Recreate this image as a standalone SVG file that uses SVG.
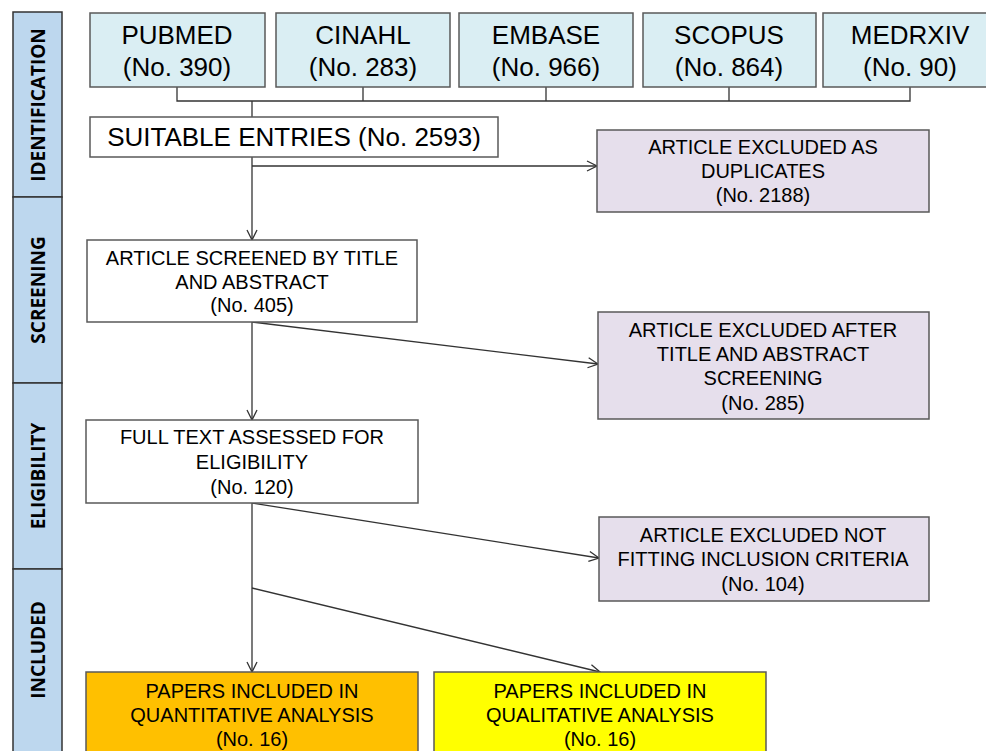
<svg xmlns="http://www.w3.org/2000/svg" width="986" height="751" viewBox="0 0 986 751">
<style>
text{font-family:"Liberation Sans",Arial,sans-serif;fill:#000;text-anchor:middle}
.band{fill:#bdd7ee;stroke:#333;stroke-width:1.5}
.bl{font-family:"Open Sans","DejaVu Sans",sans-serif;font-weight:bold;font-size:19px}
.src{fill:#daeef3;stroke:#595959;stroke-width:1.5}
.wht{fill:#fff;stroke:#595959;stroke-width:1.5}
.pur{fill:#e6dfec;stroke:#595959;stroke-width:1.5}
.org{fill:#ffc000;stroke:#595959;stroke-width:1.5}
.yel{fill:#ffff00;stroke:#595959;stroke-width:1.5}
.t24{font-size:26px}
.t18{font-size:20px}
.t16{font-size:20px}
.c{fill:none;stroke:#333;stroke-width:1.3}
.a{fill:none;stroke:#333;stroke-width:1.3;marker-end:url(#ar)}
</style>
<defs>
<marker id="ar" viewBox="0 0 12 12" refX="11" refY="6" markerWidth="12" markerHeight="12" markerUnits="userSpaceOnUse" orient="auto">
<path d="M1,1 L11,6 L1,11" fill="none" stroke="#333" stroke-width="1.3"/>
</marker>
</defs>
<rect width="986" height="751" fill="#fff"/>
<g id="bands">
<rect class="band" x="13" y="12" width="49" height="185"/>
<rect class="band" x="13" y="197" width="49" height="186"/>
<rect class="band" x="13" y="383" width="49" height="186"/>
<rect class="band" x="13" y="569" width="49" height="190"/>
<text class="bl" transform="translate(45,105) rotate(-90)">IDENTIFICATION</text>
<text class="bl" transform="translate(45,290) rotate(-90)">SCREENING</text>
<text class="bl" transform="translate(45,476) rotate(-90)">ELIGIBILITY</text>
<text class="bl" transform="translate(45,650) rotate(-90)">INCLUDED</text>
</g>
<g id="connectors">
<path class="c" d="M177,87 V101 H910 V87 M363,87 V101 M546,87 V101 M729,87 V101 M252,101 V117"/>
<path class="a" d="M252,157 V240"/>
<path class="a" d="M252,166 H597"/>
<path class="a" d="M252,322 L598,364"/>
<path class="a" d="M252,322 V420"/>
<path class="a" d="M252,503 L599,558"/>
<path class="a" d="M252,503 V672"/>
<path class="a" d="M252,588 L600,672"/>
</g>
<g id="pubmed"><rect class="src" x="90" y="13" width="175" height="74"/><text class="t24" x="177" y="44">PUBMED</text><text class="t24" x="177" y="76">(No. 390)</text></g>
<g id="cinahl"><rect class="src" x="276" y="13" width="174" height="74"/><text class="t24" x="363" y="44">CINAHL</text><text class="t24" x="363" y="76">(No. 283)</text></g>
<g id="embase"><rect class="src" x="459" y="13" width="174" height="74"/><text class="t24" x="546" y="44">EMBASE</text><text class="t24" x="546" y="76">(No. 966)</text></g>
<g id="scopus"><rect class="src" x="643" y="13" width="173" height="74"/><text class="t24" x="729" y="44">SCOPUS</text><text class="t24" x="729" y="76">(No. 864)</text></g>
<g id="medrxiv"><rect class="src" x="823" y="13" width="175" height="74"/><text class="t24" x="910" y="44">MEDRXIV</text><text class="t24" x="910" y="76">(No. 90)</text></g>
<g id="suitable"><rect class="wht" x="90" y="117" width="408" height="40"/><text class="t24" x="294" y="146">SUITABLE ENTRIES (No. 2593)</text></g>
<g id="duplicates"><rect class="pur" x="597" y="130" width="332" height="82"/><text class="t18" x="763" y="154">ARTICLE EXCLUDED AS</text><text class="t18" x="763" y="178">DUPLICATES</text><text class="t16" x="763" y="202">(No. 2188)</text></g>
<g id="screened"><rect class="wht" x="87" y="240" width="330" height="82"/><text class="t18" x="252" y="265">ARTICLE SCREENED BY TITLE</text><text class="t18" x="252" y="289">AND ABSTRACT</text><text class="t16" x="252" y="312">(No. 405)</text></g>
<g id="excluded-screening"><rect class="pur" x="598" y="312" width="331" height="107"/><text class="t18" x="763" y="337">ARTICLE EXCLUDED AFTER</text><text class="t18" x="763" y="361">TITLE AND ABSTRACT</text><text class="t18" x="763" y="385">SCREENING</text><text class="t18" x="763" y="410">(No. 285)</text></g>
<g id="fulltext"><rect class="wht" x="86" y="420" width="332" height="83"/><text class="t18" x="252" y="444">FULL TEXT ASSESSED FOR</text><text class="t18" x="252" y="469">ELIGIBILITY</text><text class="t18" x="252" y="494">(No. 120)</text></g>
<g id="excluded-criteria"><rect class="pur" x="599" y="517" width="330" height="84"/><text class="t18" x="763" y="542">ARTICLE EXCLUDED NOT</text><text class="t18" x="763" y="566">FITTING INCLUSION CRITERIA</text><text class="t18" x="763" y="591">(No. 104)</text></g>
<g id="quantitative"><rect class="org" x="86" y="672" width="332" height="90"/><text class="t18" x="252" y="698">PAPERS INCLUDED IN</text><text class="t18" x="252" y="722">QUANTITATIVE ANALYSIS</text><text class="t18" x="252" y="746">(No. 16)</text></g>
<g id="qualitative"><rect class="yel" x="434" y="672" width="332" height="90"/><text class="t18" x="600" y="698">PAPERS INCLUDED IN</text><text class="t18" x="600" y="722">QUALITATIVE ANALYSIS</text><text class="t18" x="600" y="746">(No. 16)</text></g>
</svg>
